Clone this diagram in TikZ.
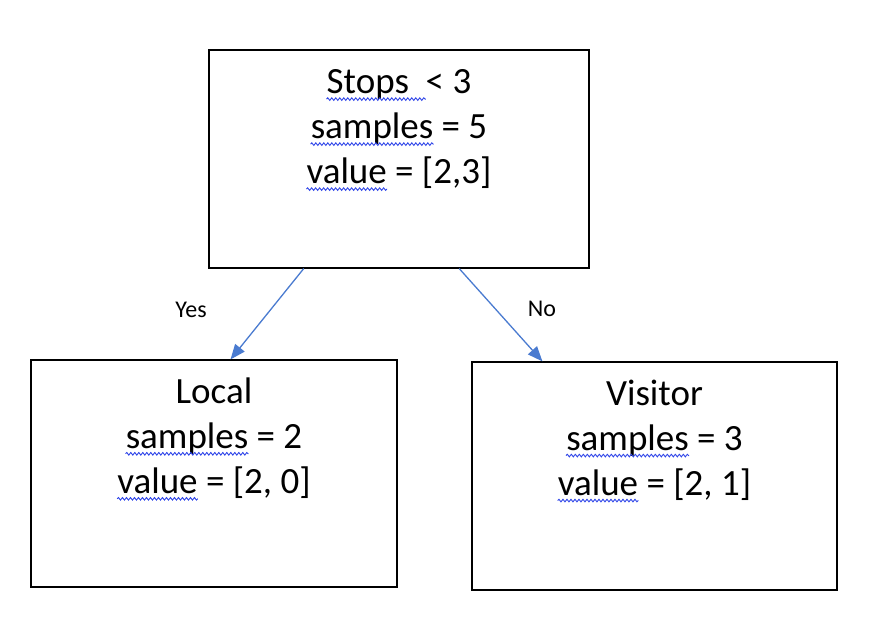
\documentclass[tikz,border=0pt]{standalone}
\usepackage{fontspec}
\setmainfont{Carlito}
\usetikzlibrary{positioning,calc,arrows.meta,decorations.pathmorphing}
\definecolor{edgeblue}{HTML}{4A7BD0}
\definecolor{spellblue}{HTML}{2F45E8}
\newcommand{\spell}[1]{\tikz[baseline=(w.base)]{\node[inner sep=0pt] (w) {#1};
  \draw[spellblue, line width=0.9pt, overlay, decorate, decoration={snake, amplitude=1.3pt, segment length=4pt}]
  ([yshift=-5.5pt]w.base west) -- ([yshift=-5.5pt]w.base east);}}
\begin{document}
\begin{tikzpicture}[x=1pt,y=-1pt,
  box/.style={draw, line width=1.2pt, minimum width=#1, inner sep=0pt},
  txt/.style={align=center, inner sep=0pt, font=\fontsize{37}{45}\selectfont},
  branch/.style={draw=edgeblue, line width=1.3pt, -{Triangle[length=15pt,width=12pt]}},
  lbl/.style={inner sep=0pt, font=\fontsize{24}{28}\selectfont}]
\useasboundingbox (0,0) rectangle (883,632);
\node [box=380pt, minimum height=218pt] (stops) at (399,159) {};
\node [box=366pt, minimum height=227pt] (local) at (214,473.5) {};
\node [box=365pt, minimum height=228pt] (visitor) at (654.5,476) {};
\node [txt, below=20pt of stops.north] (stopstxt) {\spell{Stops\ \ }<~3\\ \spell{samples} = 5\\ \spell{value} = [2,3]};
\node [txt, below=18pt of local.north] (localtxt) {Local\\ \spell{samples} = 2\\ \spell{value} = [2, 0]};
\node [txt, below=18pt of visitor.north] (visitortxt) {Visitor\\ \spell{samples} = 3\\ \spell{value} = [2, 1]};
\draw [branch] ($(stops.south west)!0.25!(stops.south east)$) -- ($(local.north west)!0.545!(local.north east)$);
\draw [branch] ($(stops.south west)!0.658!(stops.south east)$) -- ($(visitor.north west)!0.194!(visitor.north east)$);
\node [lbl] (yes) at (191,310) {Yes};
\node [lbl] (no) at (542,309) {No};
\end{tikzpicture}
\end{document}
